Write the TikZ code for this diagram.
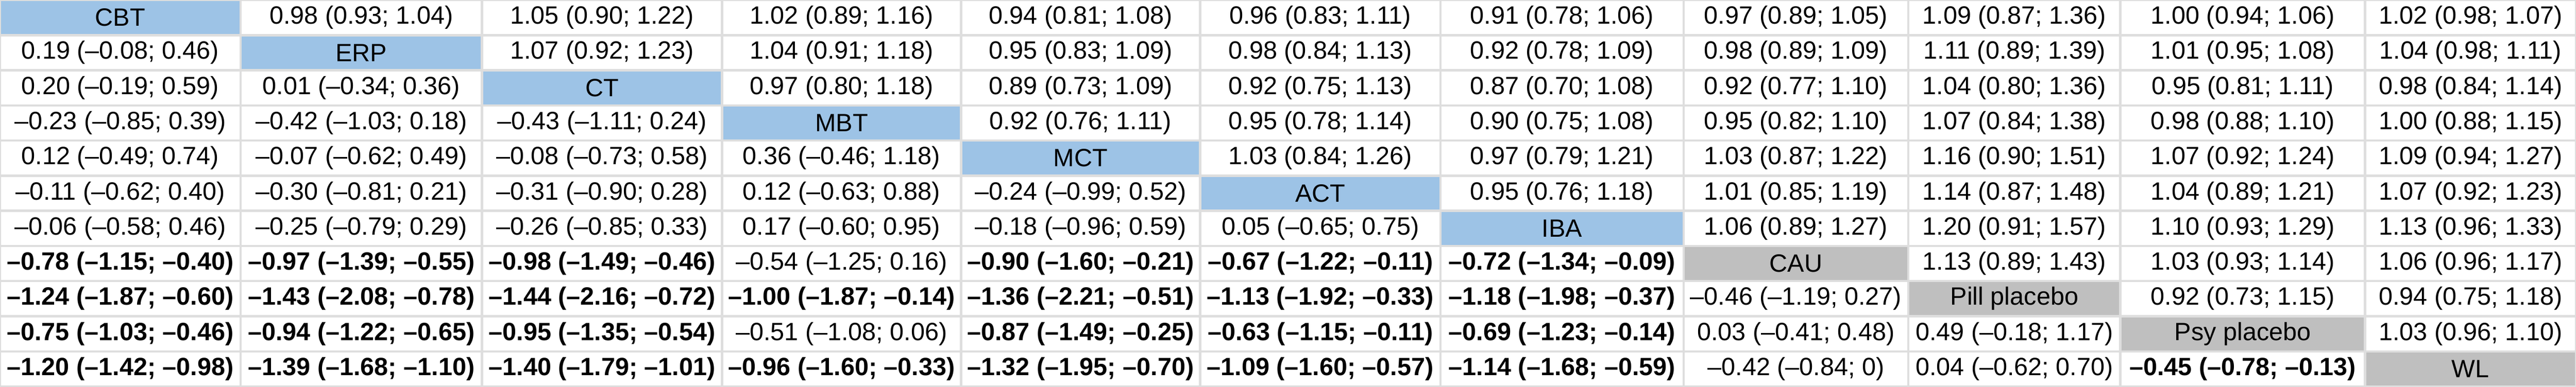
\documentclass[tikz,border=0pt]{standalone}
\usepackage{fontspec}
\setmainfont{Liberation Sans}
\definecolor{trtblue}{HTML}{9DC3E6}
\definecolor{ctlgray}{HTML}{BFBFBF}
\definecolor{gridgray}{HTML}{DEDEDE}
\newcommand{\B}[1]{\textbf{#1}}
\begin{document}
\begin{tikzpicture}[x=1cm,y=1cm]

% definitions
\tikzset{cell/.style={rectangle, draw=gridgray, line width=1.3pt, fill=white, inner sep=0pt, font=\fontsize{14}{16}\selectfont},
  trt/.style={cell, fill=trtblue},
  ctl/.style={cell, fill=ctlgray}}
\def\edges{{0,4.73,9.48,14.20,18.90,23.60,28.33,33.11,37.53,41.70,46.51,50.66}}
\def\rh{0.6918}

\useasboundingbox (0,0) rectangle (50.66,7.61);

% one row of the league table: row number / list of col/text
\newcommand{\leaguerow}[3][cell]{%
  \foreach \c/\t in {#3} {
    \pgfmathsetmacro\xl{\edges[\c-1]}
    \pgfmathsetmacro\xr{\edges[\c]}
    \pgfmathsetmacro\yc{7.61-(#2-0.5)*\rh}
    \ifnum\c=#2\relax
      \node (c#2-\c) [#1, minimum width=(\xr-\xl)*1cm, minimum height=\rh cm] at ({(\xl+\xr)/2},\yc) {\t};
    \else
      \node (c#2-\c) [cell, minimum width=(\xr-\xl)*1cm, minimum height=\rh cm] at ({(\xl+\xr)/2},\yc) {\t};
    \fi
  }}

% the table
\leaguerow[trt]{1}{1/CBT, 2/0.98 (0.93; 1.04), 3/1.05 (0.90; 1.22), 4/1.02 (0.89; 1.16), 5/0.94 (0.81; 1.08), 6/0.96 (0.83; 1.11), 7/0.91 (0.78; 1.06), 8/0.97 (0.89; 1.05), 9/1.09 (0.87; 1.36), 10/1.00 (0.94; 1.06), 11/1.02 (0.98; 1.07)}
\leaguerow[trt]{2}{1/0.19 (--0.08;  0.46), 2/ERP, 3/1.07 (0.92; 1.23), 4/1.04 (0.91; 1.18), 5/0.95 (0.83; 1.09), 6/0.98 (0.84; 1.13), 7/0.92 (0.78; 1.09), 8/0.98 (0.89; 1.09), 9/1.11 (0.89; 1.39), 10/1.01 (0.95; 1.08), 11/1.04 (0.98; 1.11)}
\leaguerow[trt]{3}{1/0.20 (--0.19;  0.59), 2/0.01 (--0.34; 0.36), 3/CT, 4/0.97 (0.80; 1.18), 5/0.89 (0.73; 1.09), 6/0.92 (0.75; 1.13), 7/0.87 (0.70; 1.08), 8/0.92 (0.77; 1.10), 9/1.04 (0.80; 1.36), 10/0.95 (0.81; 1.11), 11/0.98 (0.84; 1.14)}
\leaguerow[trt]{4}{1/--0.23 (--0.85;  0.39), 2/--0.42 (--1.03;  0.18), 3/--0.43 (--1.11;  0.24), 4/MBT, 5/0.92 (0.76; 1.11), 6/0.95 (0.78; 1.14), 7/0.90 (0.75; 1.08), 8/0.95 (0.82; 1.10), 9/1.07 (0.84; 1.38), 10/0.98 (0.88; 1.10), 11/1.00 (0.88; 1.15)}
\leaguerow[trt]{5}{1/0.12 (--0.49;  0.74), 2/--0.07 (--0.62;  0.49), 3/--0.08 (--0.73;  0.58), 4/0.36 (--0.46;  1.18), 5/MCT, 6/1.03 (0.84; 1.26), 7/0.97 (0.79; 1.21), 8/1.03 (0.87; 1.22), 9/1.16 (0.90; 1.51), 10/1.07 (0.92; 1.24), 11/1.09 (0.94; 1.27)}
\leaguerow[trt]{6}{1/--0.11 (--0.62; 0.40), 2/--0.30 (--0.81; 0.21), 3/--0.31 (--0.90; 0.28), 4/0.12 (--0.63; 0.88), 5/--0.24 (--0.99; 0.52), 6/ACT, 7/0.95 (0.76; 1.18), 8/1.01 (0.85; 1.19), 9/1.14 (0.87; 1.48), 10/1.04 (0.89; 1.21), 11/1.07 (0.92; 1.23)}
\leaguerow[trt]{7}{1/--0.06 (--0.58; 0.46), 2/--0.25 (--0.79; 0.29), 3/--0.26 (--0.85; 0.33), 4/0.17 (--0.60; 0.95), 5/--0.18 (--0.96; 0.59), 6/0.05 (--0.65;  0.75), 7/IBA, 8/1.06 (0.89; 1.27), 9/1.20 (0.91; 1.57), 10/1.10 (0.93; 1.29), 11/1.13 (0.96; 1.33)}
\leaguerow[ctl]{8}{1/\B{--0.78 (--1.15; --0.40)}, 2/\B{--0.97 (--1.39; --0.55)}, 3/\B{--0.98 (--1.49; --0.46)}, 4/--0.54 (--1.25; 0.16), 5/\B{--0.90 (--1.60; --0.21)}, 6/\B{--0.67 (--1.22; --0.11)}, 7/\B{--0.72 (--1.34; --0.09)}, 8/CAU, 9/1.13 (0.89; 1.43), 10/1.03 (0.93; 1.14), 11/1.06 (0.96; 1.17)}
\leaguerow[ctl]{9}{1/\B{--1.24 (--1.87; --0.60)}, 2/\B{--1.43 (--2.08; --0.78)}, 3/\B{--1.44 (--2.16; --0.72)}, 4/\B{--1.00 (--1.87; --0.14)}, 5/\B{--1.36 (--2.21; --0.51)}, 6/\B{--1.13 (--1.92; --0.33)}, 7/\B{--1.18 (--1.98; --0.37)}, 8/--0.46 (--1.19;  0.27), 9/Pill placebo, 10/0.92 (0.73; 1.15), 11/0.94 (0.75; 1.18)}
\leaguerow[ctl]{10}{1/\B{--0.75 (--1.03; --0.46)}, 2/\B{--0.94 (--1.22; --0.65)}, 3/\B{--0.95 (--1.35; --0.54)}, 4/--0.51 (--1.08;  0.06), 5/\B{--0.87 (--1.49; --0.25)}, 6/\B{--0.63 (--1.15; --0.11)}, 7/\B{--0.69 (--1.23; --0.14)}, 8/0.03 (--0.41;  0.48), 9/0.49 (--0.18;  1.17), 10/Psy placebo, 11/1.03 (0.96; 1.10)}
\leaguerow[ctl]{11}{1/\B{--1.20 (--1.42; --0.98)}, 2/\B{--1.39 (--1.68; --1.10)}, 3/\B{--1.40 (--1.79; --1.01)}, 4/\B{--0.96 (--1.60; --0.33)}, 5/\B{--1.32 (--1.95; --0.70)}, 6/\B{--1.09 (--1.60; --0.57)}, 7/\B{--1.14 (--1.68; --0.59)}, 8/--0.42 (--0.84;  0), 9/0.04 (--0.62; 0.70), 10/\B{--0.45 (--0.78; --0.13)}, 11/WL}

\end{tikzpicture}
\end{document}
